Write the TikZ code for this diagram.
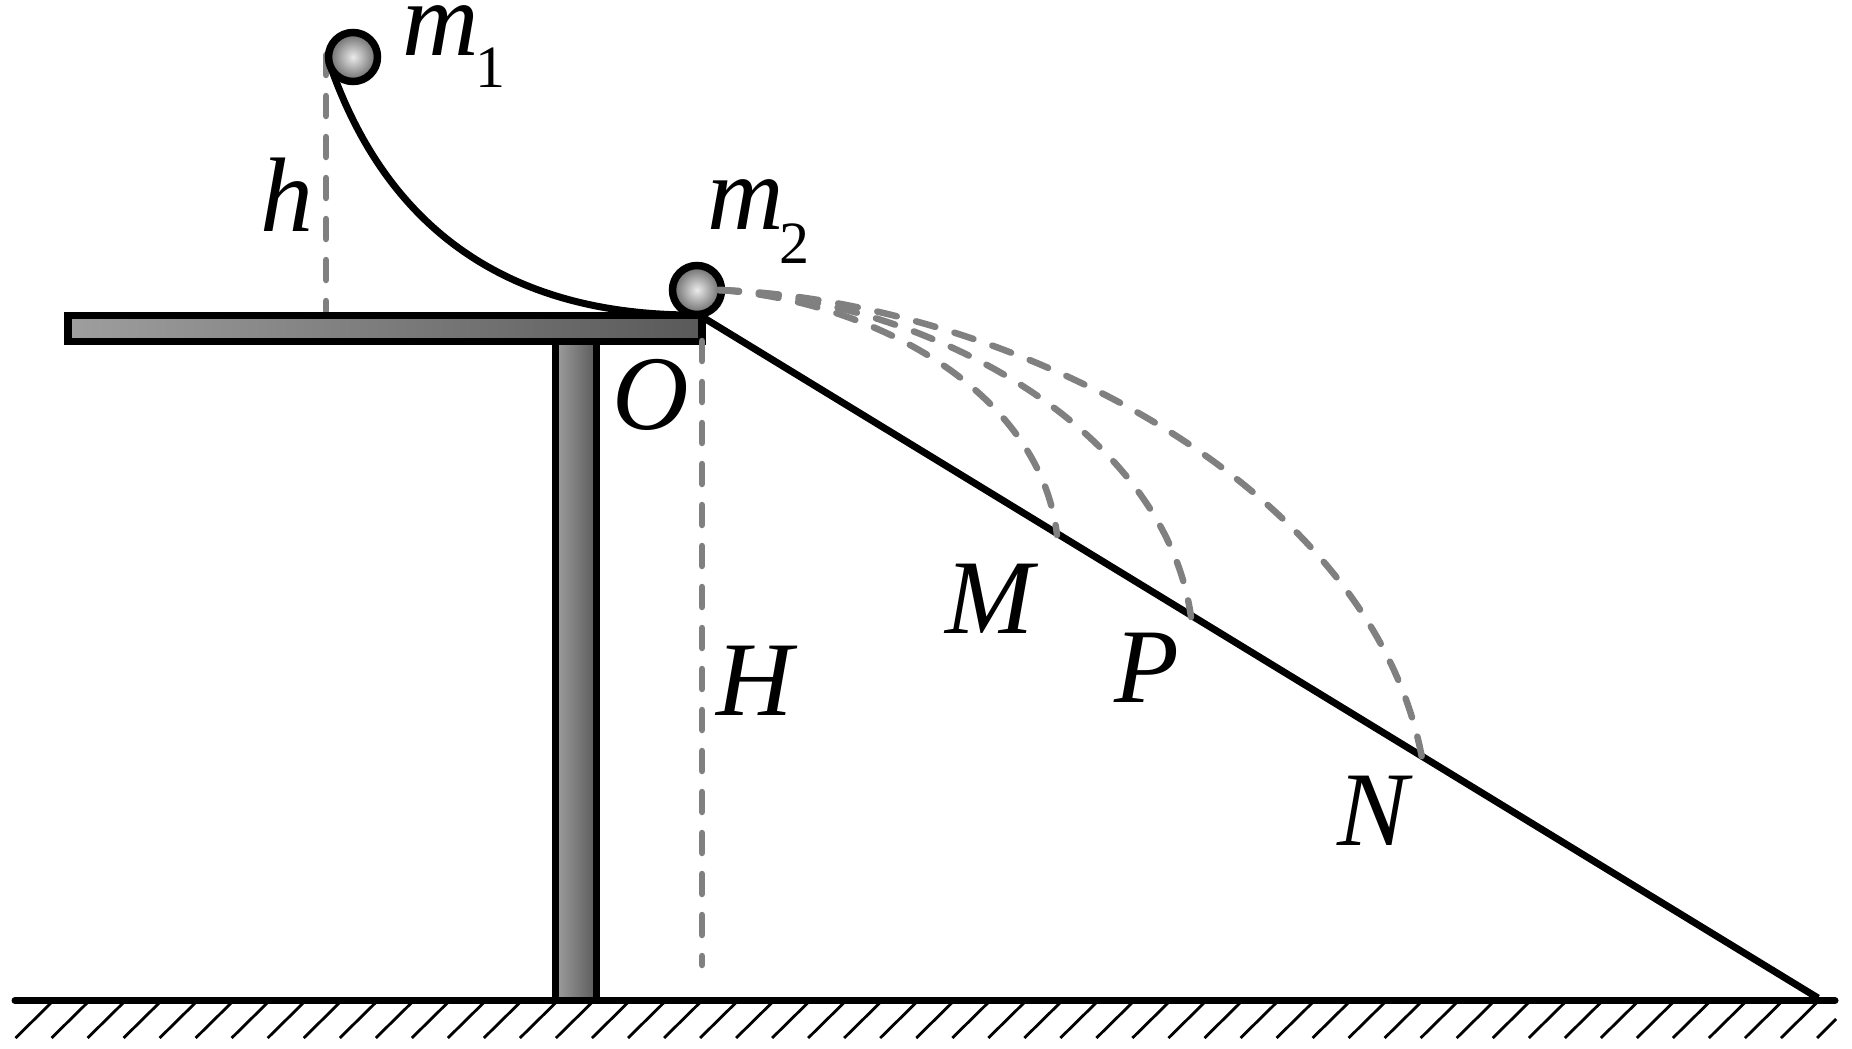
\documentclass[tikz,border=0pt]{standalone}
\usepackage{fontspec}
\setmainfont{Liberation Serif}
\usetikzlibrary{positioning}
\tikzset{%
	ball/.style={draw, circle, line width=7.5pt, minimum size=49pt, inner sep=0pt,%
		inner color=black!8, outer color=black!60},
	plank/.style={draw, rectangle, line width=7.5pt, inner sep=0pt, outer sep=0pt, anchor=north west,%
		left color=black!38, right color=black!65},
	lbl/.style={inner sep=0pt, anchor=base west, font=\fontsize{106}{106}\selectfont\itshape},
	sub/.style={inner sep=0pt, anchor=base west, font=\fontsize{60}{60}\selectfont},
	solid line/.style={line width=7pt},
	guide/.style={draw=black!50, line width=6.5pt, line cap=round, dash pattern=on 20pt off 21pt},
	flight/.style={draw=black!50, line width=6.5pt, line cap=round, dash pattern=on 20pt off 20pt},
	hatch/.style={line width=2.8pt}
}
\begin{document}
\begin{tikzpicture}[x=1pt, y=-1pt]
	\useasboundingbox (0,0) rectangle (1852,1049);

	\coordinate (groundl) at (15,1000.5);
	\coordinate (groundr) at (1835,1000.5);
	\coordinate (o) at (704,318);
	\coordinate (slopeend) at (1818,998);
	\coordinate (curvetop) at (329,62);
	\coordinate (curveend) at (690,315);
	\coordinate (hfoot) at (326,311);
	\coordinate (htop) at (326,55);
	\coordinate (Htop) at (702,341);
	\coordinate (Hfoot) at (702,965);
	\coordinate (start) at (719,290);
	\coordinate (pm) at (1057,535);
	\coordinate (pp) at (1191,617);
	\coordinate (pn) at (1422,758);

	\foreach \i in {0,...,49}
		\draw[hatch] (15.5+36.03*\i,1038) -- (51+36.03*\i,1003);
	\draw[hatch] (1817,1038) -- (1836,1019);

	\draw[guide] (htop) -- (hfoot);
	\draw[solid line] (curvetop) .. controls (390,240) and (520,314) .. (curveend);
	\node[plank, minimum width=41pt, minimum height=659pt] (leg) at (555.5,341.5) {};
	\node[plank, minimum width=634pt, minimum height=26pt] (top) at (68,315.5) {};
	\draw[solid line] (o) -- (slopeend);
	\draw[line width=7pt, line cap=round] (groundl) -- (groundr);

	\node[ball] (m1) at (353,57) {};
	\node[ball] (m2) at (697,290) {};

	\draw[guide] (Htop) -- (Hfoot);
	\draw[flight] (start) .. controls (870,300) and (1040,390) .. (pm);
	\draw[flight] (start) .. controls (930,300) and (1165,430) .. (pp);
	\draw[flight] (start) .. controls (1000,300) and (1370,480) .. (pn);

	\node[lbl] (lm1) at (402,56) {m};
	\node[sub] (s1) at (475,88) {1};
	\node[lbl] (lm2) at (707,229) {m};
	\node[sub] (s2) at (779,263) {2};
	\node[lbl] (lh) at (260,231) {h};
	\node[lbl] (lO) at (612,429) {O};
	\node[lbl] (lH) at (716,715) {H};
	\node[lbl] (lM) at (945,633) {M};
	\node[lbl] (lP) at (1114,702) {P};
	\node[lbl] (lN) at (1337,845) {N};
\end{tikzpicture}
\end{document}
